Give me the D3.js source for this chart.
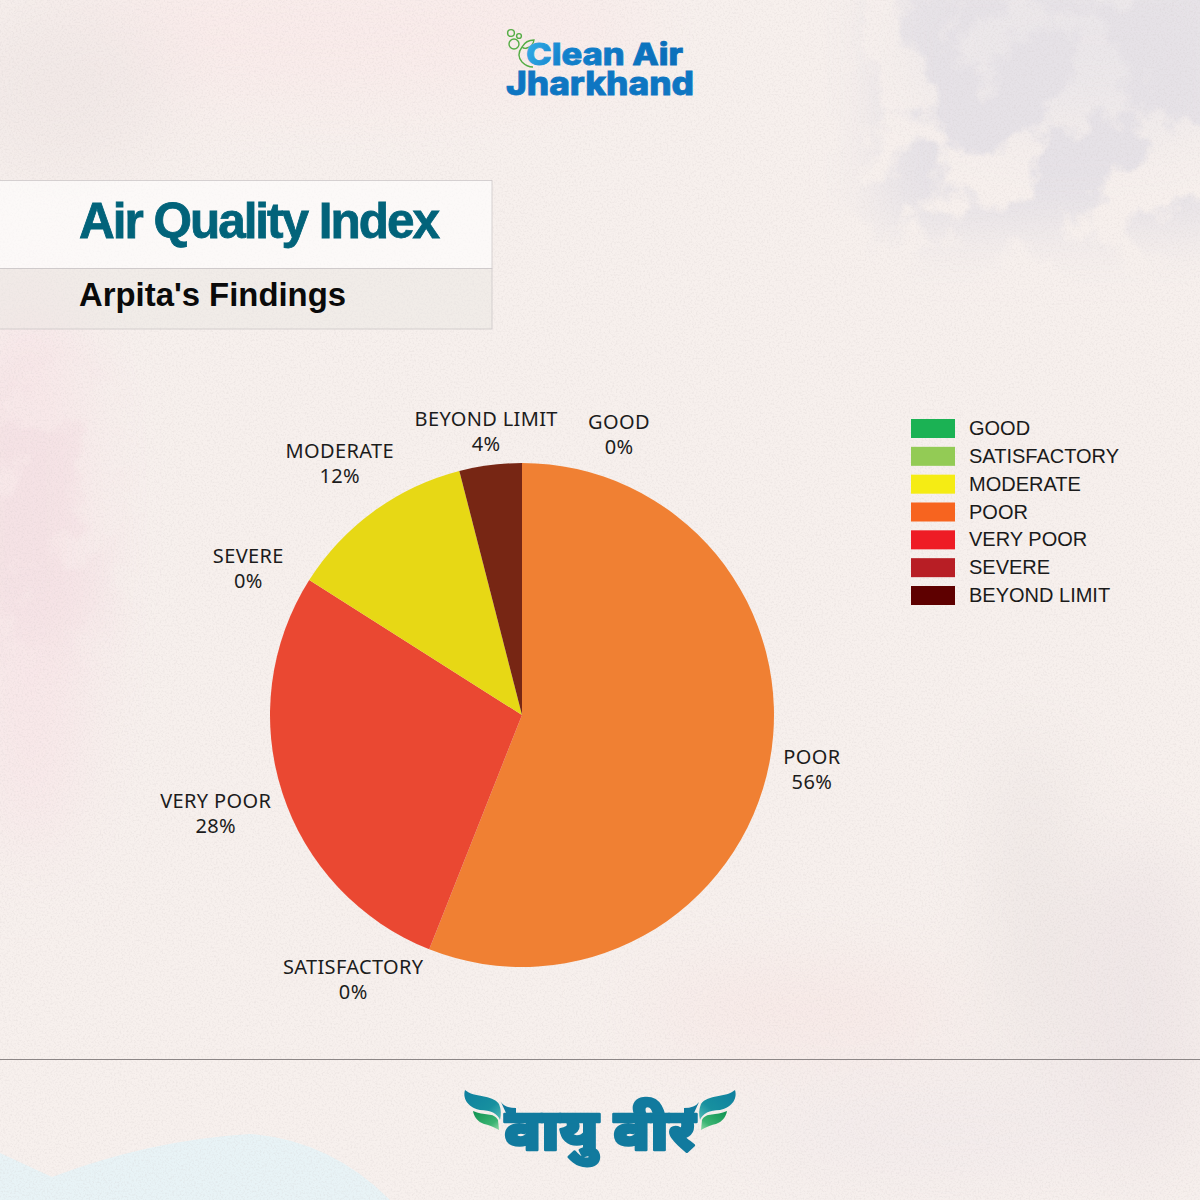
<!DOCTYPE html>
<html>
<head>
<meta charset="utf-8">
<style>
  html, body { margin: 0; background: #f7f0ed; }
  svg { display: block; }
</style>
</head>
<body>
<div id="chart"></div>
<script src="https://cdn.jsdelivr.net/npm/d3@7"></script>
<script>
// legend order
const legendNames = ['GOOD', 'SATISFACTORY', 'MODERATE', 'POOR', 'VERY POOR', 'SEVERE', 'BEYOND LIMIT'];
const legendColors = ['#1bb254', '#93cb55', '#f5ec14', '#f7641f', '#ee1c25', '#b81e25', '#5e0000'];

// slices clockwise from the top
const sliceNames = ['GOOD', 'POOR', 'SATISFACTORY', 'VERY POOR', 'SEVERE', 'MODERATE', 'BEYOND LIMIT'];
const sliceValues = [0, 56, 0, 28, 0, 12, 4];
const sliceColors = ['#27a659', '#f08033', '#93bf55', '#ea4832', '#b3272b', '#e7d815', '#772614'];

const width = 1200, height = 1200;
const cx = 522, cy = 715, radius = 252;

// hand placed offsets, mostly for the zero slices that would collide
const labelNudge = {
  'GOOD': [97, 4],
  'SATISFACTORY': [-55, -23],
  'SEVERE': [-18, 16],
  'BEYOND LIMIT': [1, 8],
  'MODERATE': [1, 1],
  'VERY POOR': [-2, 0],
  'POOR': [3, 0]
};

const svg = d3.select('#chart').append('svg')
  .attr('width', width)
  .attr('height', height);

const defs = svg.append('defs');

defs.append('filter').attr('id', 'soft').attr('x', '-30%').attr('y', '-30%').attr('width', '160%').attr('height', '160%')
  .append('feGaussianBlur').attr('stdDeviation', 38);

// blotchy paint patches
const blotch = defs.append('filter').attr('id', 'blotch')
  .attr('filterUnits', 'userSpaceOnUse').attr('x', 0).attr('y', 0).attr('width', width).attr('height', height);
blotch.append('feGaussianBlur').attr('in', 'SourceGraphic').attr('stdDeviation', 30).attr('result', 'b');
blotch.append('feTurbulence').attr('type', 'fractalNoise').attr('baseFrequency', 0.014).attr('numOctaves', 5).attr('seed', 7).attr('result', 'n');
blotch.append('feColorMatrix').attr('in', 'n').attr('type', 'matrix')
  .attr('values', '0 0 0 0 0  0 0 0 0 0  0 0 0 0 0  9 0 0 0 -3.6').attr('result', 'm');
blotch.append('feComposite').attr('in', 'b').attr('in2', 'm').attr('operator', 'in');

// paper grain
const grain = defs.append('filter').attr('id', 'grain')
  .attr('filterUnits', 'userSpaceOnUse').attr('x', 0).attr('y', 0).attr('width', width).attr('height', height);
grain.append('feTurbulence').attr('type', 'fractalNoise').attr('baseFrequency', 0.55).attr('numOctaves', 3).attr('seed', 3);
grain.append('feColorMatrix').attr('type', 'matrix')
  .attr('values', '0 0 0 0 0.55  0 0 0 0 0.5  0 0 0 0 0.5  0 0 0 3 -1.35');

const logoGrad = defs.append('linearGradient').attr('id', 'logoBlue')
  .attr('gradientUnits', 'userSpaceOnUse').attr('x1', 520).attr('y1', 42).attr('x2', 640).attr('y2', 96);
logoGrad.append('stop').attr('offset', 0).attr('stop-color', '#39b4ea');
logoGrad.append('stop').attr('offset', 0.35).attr('stop-color', '#1281cc');
logoGrad.append('stop').attr('offset', 1).attr('stop-color', '#0b70bb');

const tealGrad = defs.append('linearGradient').attr('id', 'wingTeal').attr('x1', 0).attr('y1', 0).attr('x2', 1).attr('y2', 1);
tealGrad.append('stop').attr('offset', 0).attr('stop-color', '#0f7f9f');
tealGrad.append('stop').attr('offset', 0.65).attr('stop-color', '#17909f');
tealGrad.append('stop').attr('offset', 1).attr('stop-color', '#55bdb6');
const greenGrad = defs.append('linearGradient').attr('id', 'wingGreen').attr('x1', 0).attr('y1', 0).attr('x2', 1).attr('y2', 1);
greenGrad.append('stop').attr('offset', 0).attr('stop-color', '#0f9150');
greenGrad.append('stop').attr('offset', 0.7).attr('stop-color', '#3bb473');
greenGrad.append('stop').attr('offset', 1).attr('stop-color', '#8fdaa6');

// ---- background ----
const bg = svg.append('g');
bg.append('rect').attr('width', width).attr('height', height).attr('fill', '#f7f0ed');

const soft = bg.append('g').attr('filter', 'url(#soft)');
soft.append('ellipse').attr('cx', 1100).attr('cy', 40).attr('rx', 190).attr('ry', 90).attr('fill', '#ebe7ea');
soft.append('ellipse').attr('cx', 330).attr('cy', 30).attr('rx', 330).attr('ry', 70).attr('fill', '#f9ebea');
soft.append('ellipse').attr('cx', 30).attr('cy', 560).attr('rx', 60).attr('ry', 300).attr('fill', '#f8e6e8');
soft.append('ellipse').attr('cx', 60).attr('cy', 90).attr('rx', 110).attr('ry', 90).attr('fill', '#f2e9e7');
soft.append('ellipse').attr('cx', 1030).attr('cy', 900).attr('rx', 30).attr('ry', 170).attr('fill', '#ede6e4');
soft.append('ellipse').attr('cx', 800).attr('cy', 1010).attr('rx', 160).attr('ry', 40).attr('fill', '#f7e8e6');
soft.append('ellipse').attr('cx', 1140).attr('cy', 1010).attr('rx', 70).attr('ry', 170).attr('fill', '#f0e7e7');
soft.append('ellipse').attr('cx', 950).attr('cy', 1130).attr('rx', 200).attr('ry', 50).attr('fill', '#f3ebeb');

const blotches = bg.append('g').attr('filter', 'url(#blotch)');
blotches.append('rect').attr('x', 880).attr('y', -40).attr('width', 360).attr('height', 270).attr('fill', '#e6e2e7');
blotches.append('rect').attr('x', -40).attr('y', 380).attr('width', 130).attr('height', 260).attr('fill', '#f5e2e5');

bg.append('path')
  .attr('d', 'M0,1153 L52,1177 Q150,1140 250,1134 Q330,1140 390,1200 L0,1200 Z')
  .attr('fill', '#e8f3f6');

bg.append('rect').attr('width', width).attr('height', height)
  .attr('filter', 'url(#grain)').attr('opacity', 0.16);

// ---- top logo ----
const logo = svg.append('g');
logo.append('circle').attr('cx', 511).attr('cy', 33).attr('r', 3.4);
logo.append('circle').attr('cx', 519).attr('cy', 36).attr('r', 2.4);
logo.append('circle').attr('cx', 514).attr('cy', 44).attr('r', 5);
logo.append('path').attr('d', 'M522,47 Q526,40 534,40 Q533,46 527,48 Q524,49 522,47');
logo.append('path').attr('d', 'M522,47 Q516,55 522,62 Q527,67 533,67');
logo.selectAll('circle, path')
  .attr('fill', 'none').attr('stroke', '#55ad45').attr('stroke-width', 1.4);

logo.append('text').attr('x', 526).attr('y', 65).attr('textLength', 157).attr('lengthAdjust', 'spacingAndGlyphs')
  .attr('font-family', 'Inter').attr('font-weight', 800).attr('font-size', 30)
  .attr('fill', 'url(#logoBlue)').attr('stroke', 'url(#logoBlue)').attr('stroke-width', 0.8)
  .text('Clean Air');
logo.append('text').attr('x', 506).attr('y', 95).attr('textLength', 188).attr('lengthAdjust', 'spacingAndGlyphs')
  .attr('font-family', 'Inter').attr('font-weight', 800).attr('font-size', 32)
  .attr('fill', '#0e76c2').attr('stroke', '#0e76c2').attr('stroke-width', 0.8)
  .text('Jharkhand');

// ---- title panels ----
svg.append('rect').attr('x', -1).attr('y', 180.5).attr('width', 493).attr('height', 88)
  .attr('fill', '#ffffff').attr('fill-opacity', 0.62).attr('stroke', '#cdc7c9').attr('stroke-width', 0.8);
svg.append('rect').attr('x', -1).attr('y', 268.5).attr('width', 493).attr('height', 60.5)
  .attr('fill', '#e8e6e2').attr('fill-opacity', 0.45).attr('stroke', '#cdc7c9').attr('stroke-width', 0.8);

svg.append('text').attr('x', 79).attr('y', 238).attr('textLength', 361).attr('lengthAdjust', 'spacing')
  .attr('font-family', 'Liberation Sans').attr('font-weight', 700).attr('font-size', 49.5)
  .attr('fill', '#02637a').attr('stroke', '#02637a').attr('stroke-width', 0.8)
  .text('Air Quality Index');
svg.append('text').attr('x', 79).attr('y', 306).attr('textLength', 267).attr('lengthAdjust', 'spacingAndGlyphs')
  .attr('font-family', 'Liberation Sans').attr('font-weight', 700).attr('font-size', 33)
  .attr('fill', '#0a0a0a')
  .text("Arpita's Findings");

// ---- pie ----
const rows = sliceNames.map((name, i) => ({ name, value: sliceValues[i], color: sliceColors[i] }));
const pie = d3.pie().sort(null).value(d => d.value);
const arc = d3.arc().innerRadius(0).outerRadius(radius);
const arcs = pie(rows);

const chart = svg.append('g').attr('transform', `translate(${cx},${cy})`);

chart.selectAll('path.slice')
  .data(arcs.filter(d => d.data.value > 0))
  .enter().append('path')
  .attr('class', 'slice')
  .attr('d', arc)
  .attr('fill', d => d.data.color);

const labels = chart.selectAll('g.label')
  .data(arcs)
  .enter().append('g')
  .attr('class', 'label')
  .attr('font-family', '"Noto Sans"')
  .attr('font-size', 20)
  .attr('letter-spacing', 0.35)
  .attr('fill', '#1c1c1c')
  .attr('text-anchor', 'middle');

labels.append('text').attr('y', -5.5).text(d => d.data.name);
labels.append('text').attr('y', 19.5).text(d => d.data.value + '%');

// push each label out along its slice until its box clears the rim
labels.attr('transform', function(d) {
  const box = this.getBBox();
  const mid = (d.startAngle + d.endAngle) / 2;
  const sx = Math.sin(mid), cy_ = -Math.cos(mid);
  const r = radius + 7 + Math.abs(sx) * box.width / 2 + Math.abs(cy_) * box.height / 2;
  const nudge = labelNudge[d.data.name] || [0, 0];
  return `translate(${sx * r + nudge[0]},${cy_ * r + nudge[1]})`;
});

// ---- legend ----
const legendY = d3.scalePoint().domain(legendNames).range([419, 586]);

const legend = svg.append('g').selectAll('g')
  .data(legendNames)
  .enter().append('g')
  .attr('transform', d => `translate(911,${legendY(d)})`);

legend.append('rect')
  .attr('width', 44).attr('height', 19)
  .attr('fill', (d, i) => legendColors[i]);

legend.append('text')
  .attr('x', 58).attr('y', 16)
  .attr('font-family', 'Liberation Sans').attr('font-size', 20)
  .attr('fill', '#1a1a1a')
  .text(d => d);

// ---- footer ----
svg.append('line')
  .attr('x1', 0).attr('x2', width).attr('y1', 1059.5).attr('y2', 1059.5)
  .attr('stroke', '#8c8686').attr('stroke-width', 1);

const footer = svg.append('g');
footer.append('text')
  .attr('x', 600).attr('y', 1150)
  .attr('text-anchor', 'middle')
  .attr('font-family', '"Noto Sans"').attr('font-weight', 900).attr('font-size', 58)
  .attr('fill', '#117a9e').attr('stroke', '#117a9e').attr('stroke-width', 2.6).attr('stroke-linejoin', 'round')
  .text('वायु वीर');

[1, -1].forEach(side => {
  const wing = footer.append('g')
    .attr('transform', side === 1 ? null : `translate(${2 * 600},0) scale(-1,1)`);
  wing.append('path')
    .attr('d', 'M465,1090 C474,1098 492,1094 499,1104 Q502,1111 500,1120 Q496,1110 480,1110 C470,1108 462,1100 465,1090 Z')
    .attr('fill', 'url(#wingTeal)');
  wing.append('path')
    .attr('d', 'M473,1111 C484,1116 494,1112 498,1120 L499,1130 Q490,1125 484,1124 C478,1122 474,1117 473,1111 Z')
    .attr('fill', 'url(#wingGreen)');
  wing.append('path')
    .attr('d', 'M501,1102 Q505,1108 516,1108 L516,1113 L506,1113 Z')
    .attr('fill', '#117a9e');
});
</script>
</body>
</html>
